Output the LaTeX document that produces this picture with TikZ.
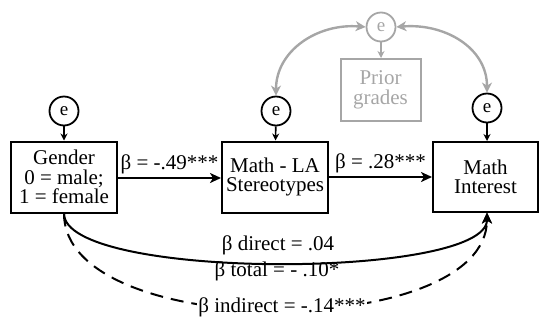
\documentclass[tikz,border=0pt]{standalone}
\usepackage{fontspec}
\setmainfont{Liberation Serif}
\usetikzlibrary{arrows.meta}
\definecolor{fadegrey}{RGB}{166,166,166}
\tikzset{
  var/.style={draw,line width=2pt,minimum width=106pt,minimum height=71pt,align=center,inner sep=0pt,font=\fontsize{21}{19.5}\selectfont},
  err/.style={draw,circle,line width=1.8pt,minimum size=29pt,inner sep=0pt,font=\fontsize{19}{20}\selectfont},
  lab/.style={inner sep=1pt,font=\fontsize{21}{22}\selectfont},
  arr/.style={line width=2pt,-{Stealth[length=11pt,width=10pt,inset=3pt]}},
  small arr/.style={line width=1.6pt,-{Stealth[length=7pt,width=7pt]}},
  faded/.style={draw=fadegrey,text=fadegrey}
}
\begin{document}
\begin{tikzpicture}[x=1pt,y=-1pt]
\useasboundingbox (0,0) rectangle (540,322);

\node[var] (gender) at (64,177) {Gender\\0 = male;\\1 = female};
\node[var] (stereo) at (275,177) {Math - LA\\Stereotypes};
\node[var,minimum width=105pt,minimum height=70pt] (interest) at (485.5,177) {Math\\Interest};
\node[var,faded,minimum width=80pt,minimum height=62pt] (prior) at (380.5,90) {Prior\\grades};

\node[err] (egender) at (64,111) {e};
\node[err] (estereo) at (276,111) {e};
\node[err] (einterest) at (487,108) {e};
\node[err,faded] (eprior) at (381,27) {e};

\draw[small arr] (egender) -- (gender);
\draw[small arr] (estereo) -- (stereo);
\draw[small arr] (einterest) -- (interest.north -| einterest);
\draw[small arr,fadegrey] (eprior) -- (prior.north -| eprior);

\draw[arr] (gender.east |- 0,178) -- (stereo.west |- 0,178) node[lab,midway,above=2pt] (ab) {β = -.49***};
\draw[arr] (stereo.east |- 0,177) -- (interest.west |- 0,177) node[lab,midway,above=2pt] (bc) {β = .28***};

\draw[line width=2.4pt,fadegrey,{Stealth[length=10pt,width=10pt,inset=3pt]}-{Stealth[length=10pt,width=10pt,inset=3pt]}]
  (eprior.west) .. controls +(-48,-4) and +(0,-45) .. (estereo.north);
\draw[line width=2.4pt,fadegrey,{Stealth[length=10pt,width=10pt,inset=3pt]}-{Stealth[length=10pt,width=10pt,inset=3pt]}]
  (eprior.east) .. controls +(48,-4) and +(0,-45) .. (einterest.north);

\coordinate (tip) at (487,212.5);
\draw[arr] (gender.south) .. controls +(0,67) and +(0,67) .. (tip);
\draw[arr,dash pattern=on 13pt off 8pt] (gender.south) .. controls +(0,129) and +(0,129) .. (tip);

\node[lab] (direct) at (278,245) {β direct = .04};
\node[lab] (total) at (277,271) {β total = - .10*};
\node[lab,fill=white] (indirect) at (282,307) {β indirect = -.14***};
\end{tikzpicture}
\end{document}
